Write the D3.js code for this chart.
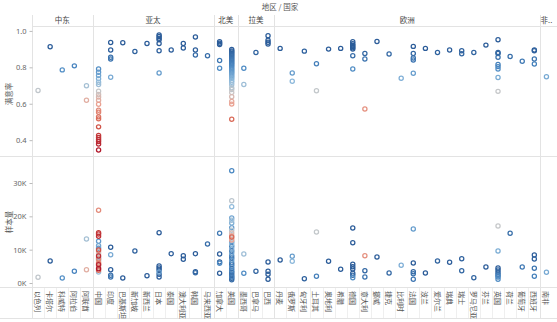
<!DOCTYPE html>
<html>
<head>
<meta charset="utf-8">
<script src="https://cdn.jsdelivr.net/npm/d3@7"></script>
<style>
  body { margin: 0; background: #fff; }
  text { font-family: "Noto Sans CJK SC", "Noto Sans", sans-serif; }
</style>
</head>
<body>
<svg id="chart" width="557" height="322"></svg>
<script>

// regions and how many countries sit under each one
var regions = ["中东", "亚太", "北美", "拉美", "欧洲", "非洲"];
var regionSizes = [5, 10, 2, 3, 22, 1];

var countries = [
  "以色列", "卡塔尔", "科威特", "阿拉伯", "阿联酋",
  "中国", "印度", "巴基斯坦", "新加坡", "新西兰", "日本", "泰国", "澳大利亚", "韩国", "马来西亚",
  "加拿大", "美国",
  "墨西哥", "巴拿马", "巴西",
  "丹麦", "俄罗斯", "匈牙利", "土耳其", "奥地利", "希腊", "德国", "意大利", "挪威", "捷克", "比利时",
  "法国", "波兰", "爱尔兰", "瑞典", "瑞士", "罗马尼亚", "芬兰", "英国", "荷兰", "葡萄牙", "西班牙",
  "南非"
];

// satisfaction rate per country (one entry per observation)
var satisfaction = [
  [0.673], [0.913], [0.786], [0.808], [0.699, 0.619],
  [0.791, 0.773, 0.755, 0.737, 0.718, 0.706, 0.669, 0.651, 0.637, 0.619, 0.597, 0.564, 0.553, 0.528, 0.517, 0.473, 0.426, 0.415, 0.404, 0.393, 0.379, 0.346],
  [0.936, 0.895, 0.855, 0.846, 0.746],
  [0.935], [0.887], [0.931],
  [0.978, 0.969, 0.960, 0.951, 0.931, 0.891, 0.769],
  [0.895], [0.931, 0.906], [0.967, 0.895, 0.868], [0.864],
  [0.940, 0.932, 0.925, 0.837, 0.795],
  [0.898, 0.890, 0.884, 0.877, 0.870, 0.864, 0.857, 0.850, 0.843, 0.836, 0.829, 0.822, 0.815, 0.808, 0.800, 0.792, 0.785,
   0.777, 0.770, 0.762, 0.754, 0.746, 0.738, 0.728, 0.718, 0.706, 0.688, 0.678, 0.662, 0.638, 0.612, 0.598, 0.515],
  [0.795, 0.706], [0.882], [0.973, 0.949, 0.938, 0.928],
  [0.904], [0.769, 0.724], [0.889], [0.820, 0.671], [0.900], [0.904],
  [0.940, 0.930, 0.922, 0.915, 0.907, 0.900, 0.864, 0.791],
  [0.876, 0.846, 0.571], [0.942], [0.873], [0.740],
  [0.915, 0.876, 0.851, 0.840, 0.767],
  [0.904], [0.882], [0.895], [0.891, 0.875], [0.882], [0.922],
  [0.951, 0.882, 0.876, 0.855, 0.816, 0.804, 0.791, 0.744, 0.668],
  [0.860], [0.833], [0.895, 0.891, 0.846, 0.818],
  [0.748]
];

// sample size in thousands, same order as satisfaction
var sampleK = [
  [1.7], [6.6], [1.5], [3.5], [13.2, 4.0],
  [10.4, 12.5, 11.2, 7.6, 6.8, 3.3, 5.2, 8.8, 9.4, 4.6, 6.2, 21.8, 7.2, 5.8, 3.8, 9.9, 15.1, 14.7, 14.0, 8.1, 5.5, 4.3],
  [10.7, 4.0, 2.3, 1.8, 8.5],
  [1.5], [9.6], [2.2],
  [5.1, 4.5, 3.9, 15.1, 2.6, 1.8, 3.3],
  [8.8], [8.2, 7.1], [8.8, 3.4, 3.1], [11.7],
  [8.7, 6.3, 2.9, 14.9, 5.9],
  [3.2, 1.4, 5.5, 2.2, 7.5, 1.0, 4.3, 9.6, 2.7, 6.1, 11.0, 1.8, 8.2, 3.7, 33.7, 4.9, 12.4,
   6.8, 16.6, 8.9, 19.5, 10.3, 18.0, 11.7, 22.9, 18.8, 15.8, 24.7, 13.4, 15.0, 14.2, 12.9, 13.8],
  [2.9, 8.7], [3.5], [6.3, 3.5, 2.6, 1.1],
  [6.9], [8.0, 6.5], [1.3], [2.0, 15.3], [6.5], [4.1],
  [16.5, 12.1, 5.6, 4.9, 4.2, 2.9, 2.3, 1.6],
  [3.7, 1.8, 8.2], [7.8], [3.0], [5.3],
  [6.0, 3.4, 2.8, 1.1, 16.2],
  [3.0], [6.6], [6.2], [7.3, 3.7], [1.6], [4.8],
  [4.5, 3.9, 3.2, 2.6, 2.2, 1.8, 1.1, 9.6, 17.1],
  [14.9], [4.8], [8.4, 7.2, 4.4, 2.0],
  [3.2]
];

var rateTicks = [0.4, 0.6, 0.8, 1.0];
var sampleTicks = [0, 10, 20, 30];

var lineColor = "#e3e3e3";
var svg = d3.select("#chart");

// flatten into one row per observation
var points = [];
countries.forEach(function(c, i) {
  satisfaction[i].forEach(function(s, j) {
    points.push({ country: c, rate: s, sample: sampleK[i][j] });
  });
});

var x = d3.scaleBand().domain(countries).range([32, 552.5]);

var yRate = d3.scaleLinear().domain([0.313, 1.027]).range([156, 26]);
var ySample = d3.scaleLinear().domain([-1.2, 37.8]).range([287, 157]);

// red-blue diverging, grey around the middle
var color = d3.scaleLinear()
  .domain([0.35, 0.5, 0.6, 0.665, 0.72, 0.8, 0.9])
  .range(["#b2182b", "#d6604d", "#eba393", "#c8c8c8", "#8fbbdc", "#4a88c2", "#2b5c99"])
  .clamp(true);

// region boundaries
var start = 0;
var regionSpans = regions.map(function(r, i) {
  var span = { name: r, x0: x(countries[start]), x1: x(countries[start + regionSizes[i] - 1]) + x.bandwidth() };
  start += regionSizes[i];
  return span;
});

// title
svg.append("text")
  .attr("x", 280).attr("y", 10)
  .attr("text-anchor", "middle")
  .attr("font-size", 7.5)
  .attr("fill", "#555")
  .text("地区 / 国家");

// frame lines
svg.append("line").attr("x1", 32).attr("x2", 557).attr("y1", 26.5).attr("y2", 26.5).attr("stroke", lineColor);
svg.append("line").attr("x1", 0).attr("x2", 557).attr("y1", 156.5).attr("y2", 156.5).attr("stroke", lineColor);
svg.append("line").attr("x1", 0).attr("x2", 557).attr("y1", 287.5).attr("y2", 287.5).attr("stroke", lineColor);
svg.append("line").attr("x1", 0).attr("x2", 557).attr("y1", 318.5).attr("y2", 318.5).attr("stroke", lineColor);

// thin dividers between country labels
svg.selectAll(".cdiv")
  .data(countries.slice(1))
  .enter()
  .append("line")
  .attr("x1", function(d) { return Math.round(x(d)) + 0.5; })
  .attr("x2", function(d) { return Math.round(x(d)) + 0.5; })
  .attr("y1", 288).attr("y2", 318)
  .attr("stroke", "#efefef");

// region separators
svg.selectAll(".rdiv")
  .data(regionSpans)
  .enter()
  .append("line")
  .attr("x1", function(d) { return Math.round(d.x0) + 0.5; })
  .attr("x2", function(d) { return Math.round(d.x0) + 0.5; })
  .attr("y1", 15).attr("y2", 318)
  .attr("stroke", lineColor);

svg.selectAll(".rlabel")
  .data(regionSpans)
  .enter()
  .append("text")
  .attr("x", function(d) { return (d.x0 + d.x1) / 2; })
  .attr("y", 23)
  .attr("text-anchor", "middle")
  .attr("font-size", 7.5)
  .attr("fill", "#444")
  .text(function(d) { return (d.x1 - d.x0) < 20 ? d.name.slice(0, 1) + ".." : d.name; });

// country labels, rotated
svg.selectAll(".clabel")
  .data(countries)
  .enter()
  .append("text")
  .attr("transform", function(d) {
    return "translate(" + (x(d) + x.bandwidth() / 2 - 3) + ",291) rotate(90)";
  })
  .attr("font-size", 7)
  .attr("fill", "#555")
  .text(function(d) { return d; });

// axes
var rateAxis = d3.axisLeft(yRate).tickValues(rateTicks).tickFormat(d3.format(".1f")).tickSize(3);
var sampleAxis = d3.axisLeft(ySample).tickValues(sampleTicks).tickFormat(function(d) { return d + "K"; }).tickSize(3);

[rateAxis, sampleAxis].forEach(function(a) {
  var g = svg.append("g").attr("transform", "translate(32.5,0)").call(a);
  g.select(".domain").remove();
  g.selectAll(".tick line").attr("stroke", "#bbb");
  g.selectAll(".tick text").attr("font-size", 7.5).attr("fill", "#666")
    .style("font-family", "'Noto Sans', sans-serif");
});

svg.append("text")
  .attr("transform", "translate(12,94) rotate(-90)")
  .attr("text-anchor", "middle")
  .attr("font-size", 7.5)
  .attr("fill", "#555")
  .text("满意率");

svg.append("text")
  .attr("transform", "translate(12,222) rotate(-90)")
  .attr("text-anchor", "middle")
  .attr("font-size", 7.5)
  .attr("fill", "#555")
  .text("样本量");

// open circle marks, top: rate, bottom: sample size
var cx = function(d) { return x(d.country) + x.bandwidth() / 2; };

svg.append("g").selectAll("circle")
  .data(points)
  .enter()
  .append("circle")
  .attr("cx", cx)
  .attr("cy", function(d) { return yRate(d.rate); })
  .attr("r", 2.1)
  .attr("fill", "none")
  .attr("stroke-width", 1.25)
  .attr("stroke", function(d) { return color(d.rate); });

svg.append("g").selectAll("circle")
  .data(points)
  .enter()
  .append("circle")
  .attr("cx", cx)
  .attr("cy", function(d) { return ySample(d.sample); })
  .attr("r", 2.1)
  .attr("fill", "none")
  .attr("stroke-width", 1.25)
  .attr("stroke", function(d) { return color(d.rate); });

</script>
</body>
</html>
